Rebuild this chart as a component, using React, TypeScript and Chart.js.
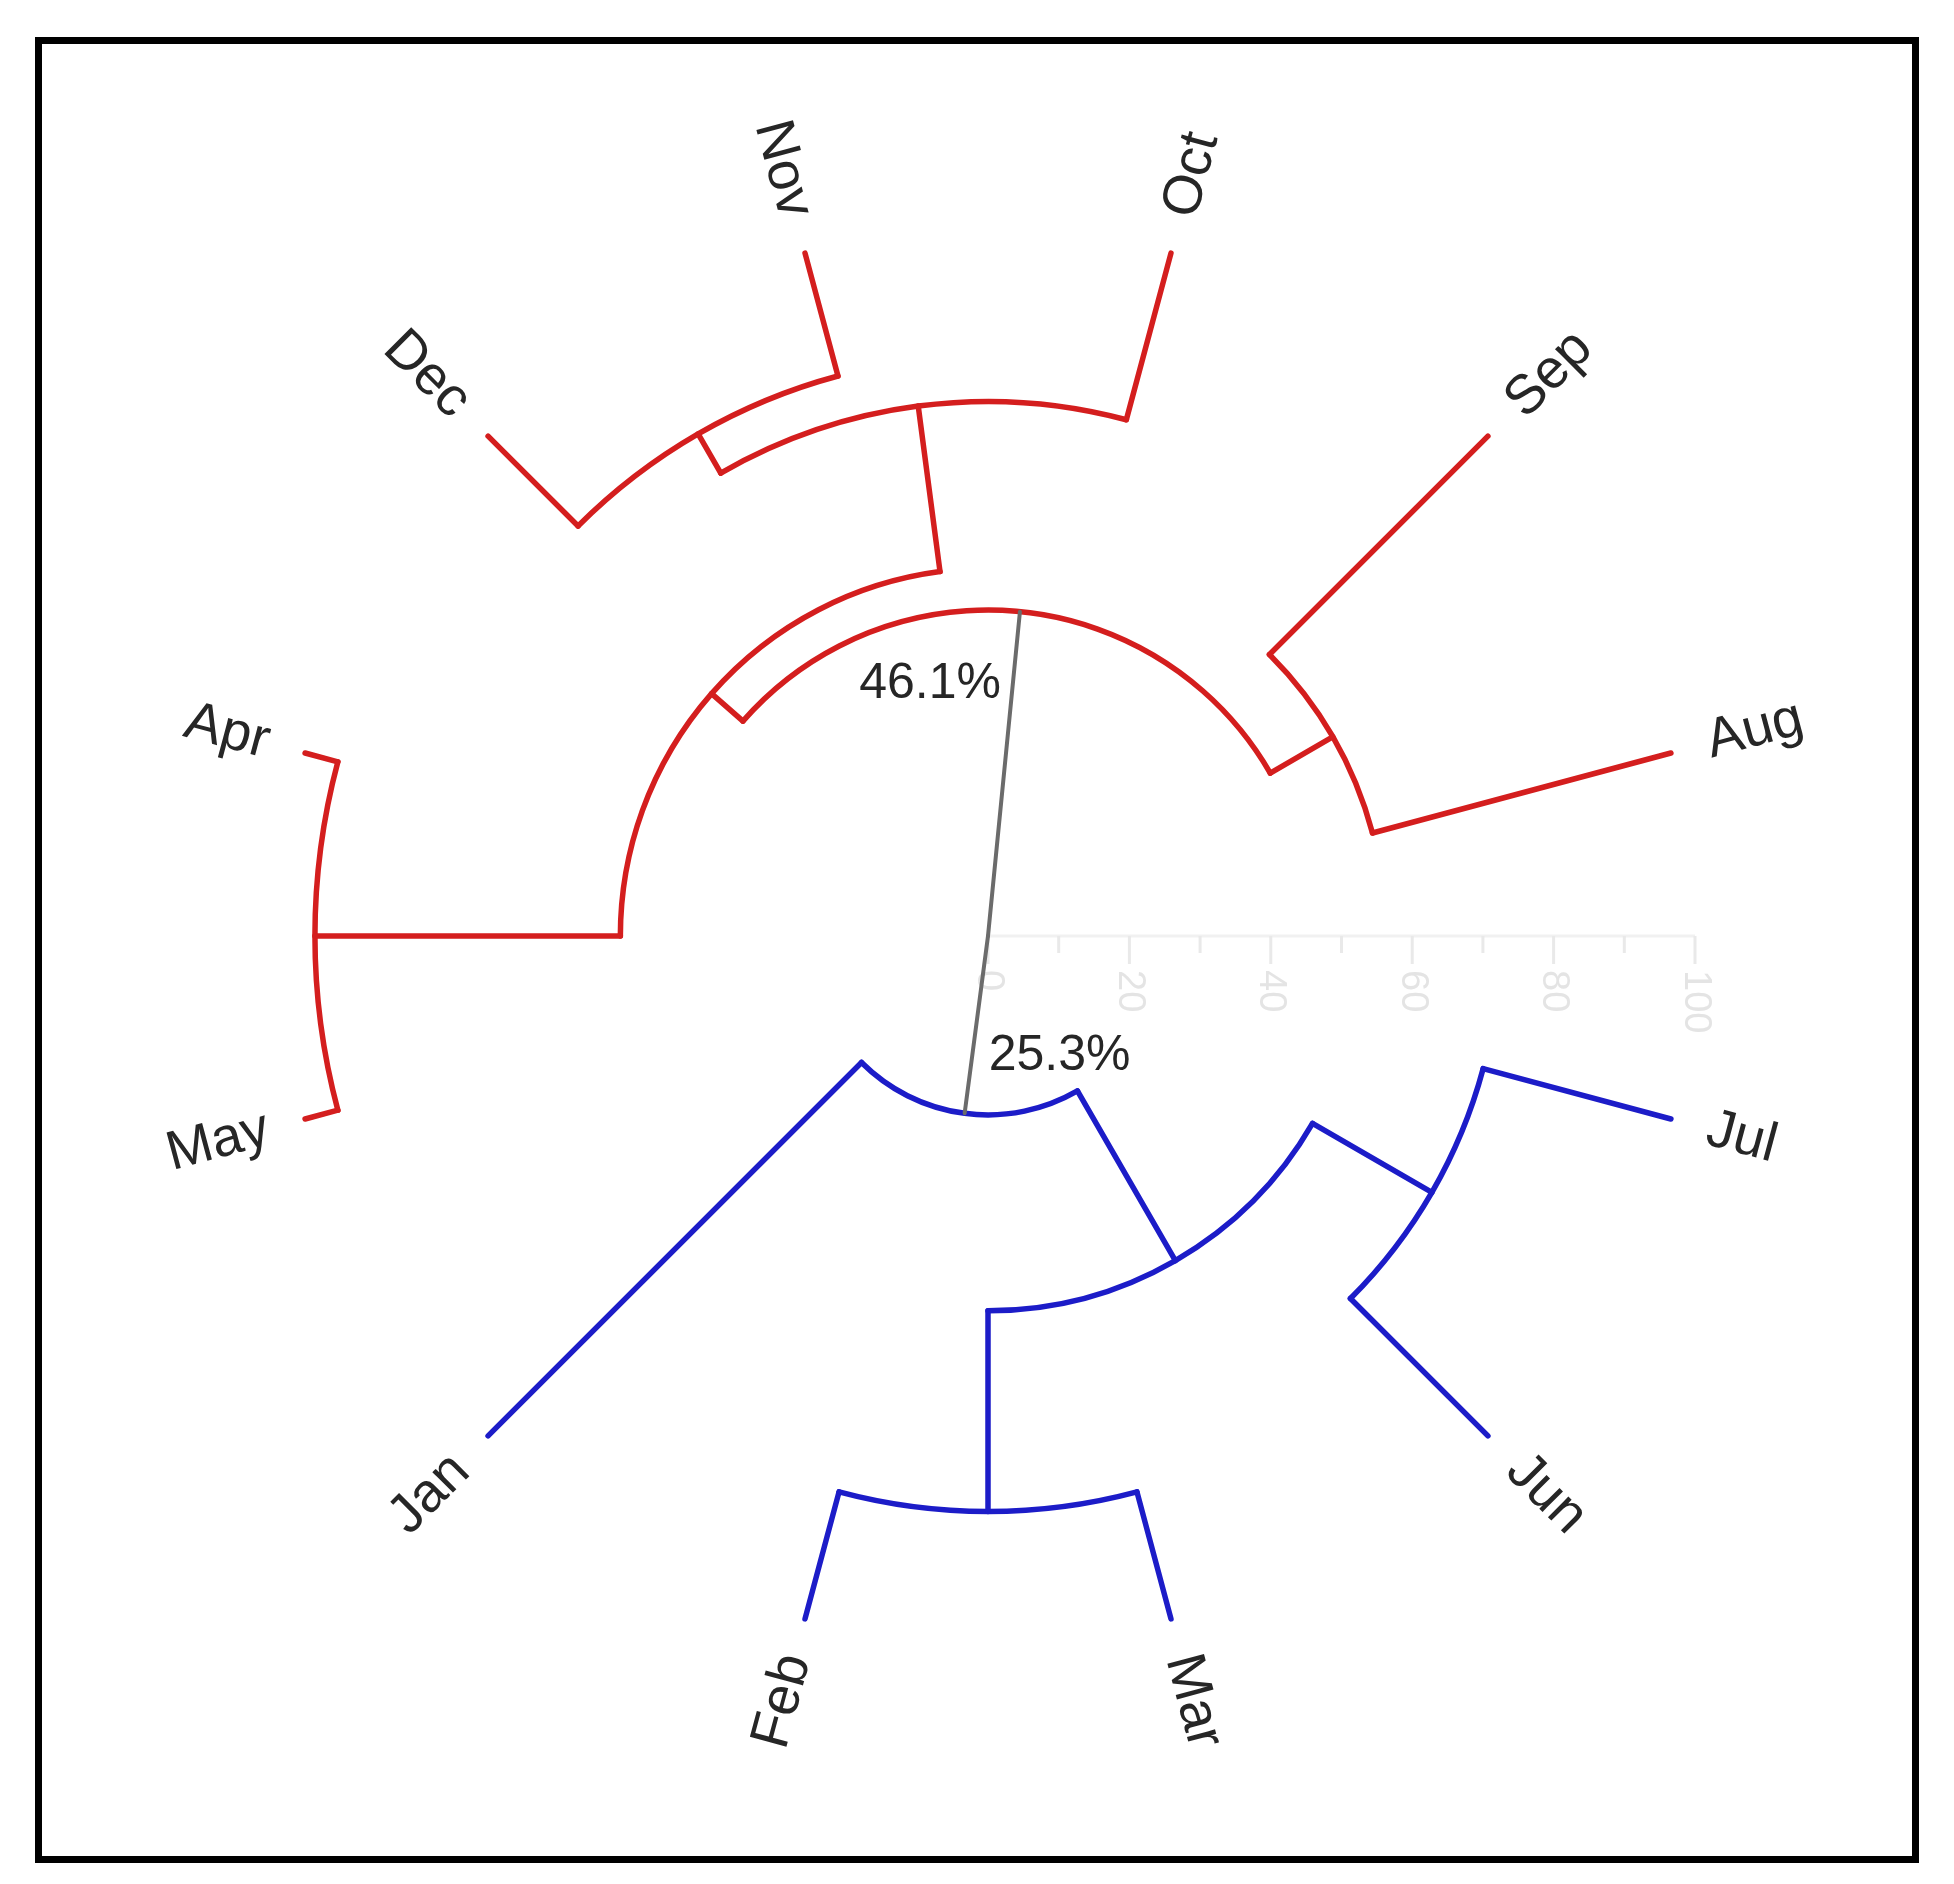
import React, { useEffect, useRef } from 'react';
import { Chart, registerables } from 'chart.js';

Chart.register(...registerables);

// ---- data ----
const leafLabels = ['Aug', 'Sep', 'Oct', 'Nov', 'Dec', 'Apr', 'May', 'Jan', 'Feb', 'Mar', 'Jun', 'Jul'];
// hclust-style merge table: negative = leaf (1-based index in leafLabels), positive = earlier merge (1-based)
const mergeLeft = [-5, -6, -9, -11, 1, -2, 2, 3, 7, -8, 9];
const mergeRight = [-4, -7, -10, -12, -3, -1, 5, 4, 6, 8, 10];
const mergeHeight = [82.0, 95.2, 81.4, 72.5, 75.6, 56.3, 52.0, 53.0, 46.1, 25.3, 0];
const leafHeight = 100;
const clusterRoots = [9, 10]; // merges that start the red and blue clusters
const clusterColors = ['#d41e1e', '#1c1cc8'];
const rootColor = '#6b6b6b';
const axisMajorTicks = [0, 20, 40, 60, 80, 100];
const axisMinorTicks = [10, 30, 50, 70, 90];

// ---- layout ----
const W = 1954;
const H = 1884;
const CX = 988;
const CY = 936;
const PX = 7.07; // pixels per unit
const LABEL_GAP = 38;
const FONT = "'Liberation Sans', Arial, sans-serif";

type NodeInfo = { angle: number; height: number; color: string; children: number[] };

function buildTree() {
  const nodes: Record<string, NodeInfo> = {};
  leafLabels.forEach((_, i) => {
    nodes['L' + i] = { angle: 15 + 30 * i, height: leafHeight, color: rootColor, children: [] };
  });
  const key = (v: number) => (v < 0 ? 'L' + (-v - 1) : 'M' + (v - 1));
  mergeHeight.forEach((h, j) => {
    const a = nodes[key(mergeLeft[j])];
    const b = nodes[key(mergeRight[j])];
    nodes['M' + j] = {
      angle: (a.angle + b.angle) / 2,
      height: h,
      color: rootColor,
      children: [mergeLeft[j], mergeRight[j]],
    };
  });
  const paint = (k: string, c: string) => {
    nodes[k].color = c;
    nodes[k].children.forEach((ch) => paint(key(ch), c));
  };
  clusterRoots.forEach((m, ci) => paint('M' + (m - 1), clusterColors[ci]));
  return { nodes, key };
}

const toXY = (angleDeg: number, r: number) => {
  const t = (angleDeg * Math.PI) / 180;
  return { x: r * Math.cos(t), y: r * Math.sin(t) };
};

export default function App() {
  const ref = useRef<HTMLCanvasElement | null>(null);

  useEffect(() => {
    if (!ref.current) return;
    const { nodes, key } = buildTree();
    const rootKey = 'M' + (mergeHeight.length - 1);

    // radial edges as datasets
    const datasets: any[] = [];
    mergeHeight.forEach((h, j) => {
      [mergeLeft[j], mergeRight[j]].forEach((ch) => {
        const c = nodes[key(ch)];
        const isRoot = 'M' + j === rootKey;
        datasets.push({
          data: [toXY(c.angle, h), toXY(c.angle, c.height)],
          showLine: true,
          borderColor: isRoot ? rootColor : c.color,
          borderWidth: isRoot ? 4 : 5.5,
          pointRadius: 0,
          borderCapStyle: 'round',
          fill: false,
        });
      });
    });

    const dendroPlugin = {
      id: 'dendro',
      beforeDatasetsDraw(chart: any) {
        const ctx = chart.ctx as CanvasRenderingContext2D;
        const xs = chart.scales.x;
        const ys = chart.scales.y;
        const cx = xs.getPixelForValue(0);
        const cy = ys.getPixelForValue(0);
        const unit = xs.getPixelForValue(1) - cx;
        ctx.save();
        // frame
        ctx.strokeStyle = '#000';
        ctx.lineWidth = 7;
        ctx.strokeRect(38.5, 40.5, 1877, 1819);
        // axis
        ctx.strokeStyle = '#f1f1f1';
        ctx.lineWidth = 3;
        ctx.beginPath();
        ctx.moveTo(cx, cy);
        ctx.lineTo(xs.getPixelForValue(100), cy);
        ctx.stroke();
        ctx.strokeStyle = '#e9e9e9';
        axisMajorTicks.forEach((t) => {
          const x = xs.getPixelForValue(t);
          ctx.beginPath();
          ctx.moveTo(x, cy);
          ctx.lineTo(x, cy + 28);
          ctx.stroke();
        });
        axisMinorTicks.forEach((t) => {
          const x = xs.getPixelForValue(t);
          ctx.beginPath();
          ctx.moveTo(x, cy);
          ctx.lineTo(x, cy + 17);
          ctx.stroke();
        });
        ctx.fillStyle = '#e4e4e4';
        ctx.font = `38px ${FONT}`;
        ctx.textAlign = 'left';
        ctx.textBaseline = 'middle';
        axisMajorTicks.forEach((t) => {
          ctx.save();
          ctx.translate(xs.getPixelForValue(t), cy + 34);
          ctx.rotate(Math.PI / 2);
          ctx.fillText(String(t), 0, 0);
          ctx.restore();
        });
        // arcs
        ctx.lineCap = 'round';
        mergeHeight.forEach((h, j) => {
          if ('M' + j === rootKey) return;
          const n = nodes['M' + j];
          const a1 = nodes[key(mergeLeft[j])].angle;
          const a2 = nodes[key(mergeRight[j])].angle;
          const lo = Math.min(a1, a2);
          const hi = Math.max(a1, a2);
          ctx.strokeStyle = n.color;
          ctx.lineWidth = 5.5;
          ctx.beginPath();
          ctx.arc(cx, cy, h * unit, (-hi * Math.PI) / 180, (-lo * Math.PI) / 180);
          ctx.stroke();
        });
        ctx.restore();
      },
      afterDatasetsDraw(chart: any) {
        const ctx = chart.ctx as CanvasRenderingContext2D;
        const xs = chart.scales.x;
        const ys = chart.scales.y;
        const cx = xs.getPixelForValue(0);
        const cy = ys.getPixelForValue(0);
        const unit = xs.getPixelForValue(1) - cx;
        ctx.save();
        ctx.fillStyle = '#262626';
        ctx.font = `55px ${FONT}`;
        ctx.textBaseline = 'middle';
        leafLabels.forEach((lab, i) => {
          const n = nodes['L' + i];
          const t = (n.angle * Math.PI) / 180;
          const r = n.height * unit + LABEL_GAP;
          ctx.save();
          ctx.translate(cx + r * Math.cos(t), cy - r * Math.sin(t));
          if (n.angle > 90 && n.angle < 270) {
            ctx.rotate(-(t - Math.PI));
            ctx.textAlign = 'right';
          } else {
            ctx.rotate(-t);
            ctx.textAlign = 'left';
          }
          ctx.fillText(lab, 0, 0);
          ctx.restore();
        });
        // cluster height labels
        ctx.font = `50px ${FONT}`;
        const offsets = [
          { dx: -19, dy: 73, align: 'right' },
          { dx: 24, dy: -57, align: 'left' },
        ];
        clusterRoots.forEach((m, ci) => {
          const n = nodes['M' + (m - 1)];
          const p = toXY(n.angle, n.height);
          const px = xs.getPixelForValue(p.x);
          const py = ys.getPixelForValue(p.y);
          ctx.textAlign = offsets[ci].align as CanvasTextAlign;
          ctx.fillText(`${n.height.toFixed(1)}%`, px + offsets[ci].dx, py + offsets[ci].dy);
        });
        ctx.restore();
      },
    };

    const chart = new Chart(ref.current, {
      type: 'scatter',
      data: { datasets },
      options: {
        responsive: false,
        maintainAspectRatio: false,
        animation: false,
        devicePixelRatio: 1,
        events: [],
        layout: { padding: 0, autoPadding: false },
        plugins: { legend: { display: false }, tooltip: { enabled: false } },
        scales: {
          x: { type: 'linear', display: false, min: -CX / PX, max: (W - CX) / PX },
          y: { type: 'linear', display: false, min: -(H - CY) / PX, max: CY / PX },
        },
      },
      plugins: [dendroPlugin],
    } as any);
    return () => chart.destroy();
  }, []);

  return (
    <div style={{ position: 'absolute', left: 0, top: 0, width: W, height: H, background: '#fff' }}>
      <canvas ref={ref} width={W} height={H} style={{ display: 'block', width: W, height: H }} />
    </div>
  );
}
